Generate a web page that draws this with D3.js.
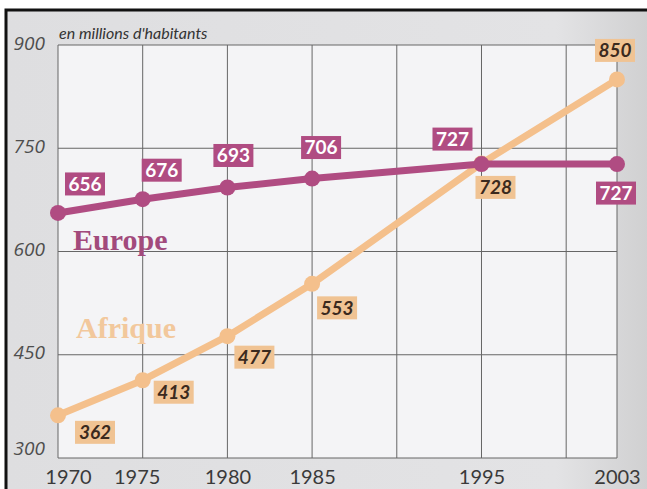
<!DOCTYPE html>
<html>
<head>
<meta charset="utf-8">
<script src="https://cdn.jsdelivr.net/npm/d3@7"></script>
<style>
  body { margin: 0; background: #fff; }
  svg { display: block; }
</style>
</head>
<body>
<svg id="chart" width="647" height="489"></svg>
<script>
// population data, millions
const years = [1970, 1975, 1980, 1985, 1995, 2003];
const europe = [656, 676, 693, 706, 727, 727];
const afrique = [362, 413, 477, 553, 728, 850];
const yTicks = [300, 450, 600, 750, 900];
const xTickLabels = [1970, 1975, 1980, 1985, 1995, 2003];
const gridYears = [1970, 1975, 1980, 1985, 1990, 1995, 2000, 2003];

// label box offsets from each point (layout only)
const europeOffsets = [[27, -29], [19, -29], [6, -32], [9, -31], [-29, -25], [-1, 29]];
const afriqueOffsets = [[37, 17], [31, 12], [27, 21], [25, 24], [14, 24], [-2, -29]];

const W = 647, H = 489;
const plot = { left: 58, right: 617, top: 45, bottom: 458 };
const pink = '#b04c82';
const peach = '#f4c08c';

const svg = d3.select('#chart');

// paper background with a darker right edge
const defs = svg.append('defs');
const grad = defs.append('linearGradient').attr('id', 'paper')
  .attr('x1', 0).attr('x2', 1).attr('y1', 0).attr('y2', 0);
grad.append('stop').attr('offset', '0%').attr('stop-color', '#dedee0');
grad.append('stop').attr('offset', '85%').attr('stop-color', '#e3e3e5');
grad.append('stop').attr('offset', '100%').attr('stop-color', '#cfcfd0');

svg.append('rect')
  .attr('x', 6).attr('y', 10).attr('width', W).attr('height', H)
  .attr('fill', 'url(#paper)');

// frame (left + top)
svg.append('path')
  .attr('d', `M6,${H} L6,10 L${W},10`)
  .attr('fill', 'none').attr('stroke', '#111').attr('stroke-width', 3);

// scales
const x = d3.scaleLinear().domain([1970, 2003]).range([plot.left, plot.right]);
const y = d3.scaleLinear().domain([300, 900]).range([plot.bottom, plot.top]);

// plot area
svg.append('rect')
  .attr('x', plot.left).attr('y', plot.top)
  .attr('width', plot.right - plot.left).attr('height', plot.bottom - plot.top)
  .attr('fill', '#f4f4f6');

// grid
svg.append('g').selectAll('line.h')
  .data(yTicks).enter().append('line')
  .attr('x1', plot.left).attr('x2', plot.right)
  .attr('y1', (d) => y(d)).attr('y2', (d) => y(d))
  .attr('stroke', '#666').attr('stroke-width', 1);

svg.append('g').selectAll('line.v')
  .data(gridYears).enter().append('line')
  .attr('x1', (d) => x(d)).attr('x2', (d) => x(d))
  .attr('y1', plot.top).attr('y2', plot.bottom)
  .attr('stroke', '#666').attr('stroke-width', 1);

// y axis labels (italic)
const yAxis = d3.axisLeft(y).tickValues(yTicks).tickSize(0).tickPadding(13);
svg.append('g')
  .attr('transform', `translate(${plot.left},0)`)
  .call(yAxis)
  .call((g) => g.select('.domain').remove())
  .selectAll('text')
  .style('font-family', '"Open Sans", Lato, sans-serif')
  .style('font-style', 'italic')
  .style('font-size', '19px')
  .attr('fill', '#4e4e4e')
  .attr('dy', (d) => (d === 300 ? '-0.2em' : '0.22em'));

// x axis labels
const xAxis = d3.axisBottom(x).tickValues(xTickLabels).tickFormat(d3.format('d'))
  .tickSize(0).tickPadding(12);
svg.append('g')
  .attr('transform', `translate(0,${plot.bottom})`)
  .call(xAxis)
  .call((g) => g.select('.domain').remove())
  .selectAll('text')
  .style('font-family', 'Lato, "Open Sans", sans-serif')
  .style('font-size', '20px')
  .attr('fill', '#3a3a3a')
  .attr('dx', (d) => (d === 1970 ? 10 : d === 1975 ? -6 : 0));

// unit caption
svg.append('text')
  .attr('x', plot.left + 1).attr('y', plot.top - 6)
  .attr('font-family', 'Lato, "Open Sans", sans-serif')
  .attr('font-style', 'italic')
  .attr('font-size', 16)
  .attr('fill', '#333')
  .text("en millions d'habitants");

// lines
const line = d3.line()
  .x((d) => x(d.year))
  .y((d) => y(d.value))
  .curve(d3.curveLinear);

const series = [
  { name: 'Afrique', values: afrique, color: peach, offsets: afriqueOffsets, text: '#3b2a1e' },
  { name: 'Europe', values: europe, color: pink, offsets: europeOffsets, text: '#fff' },
];

series.forEach((s) => {
  const pts = years.map((yr, i) => ({ year: yr, value: s.values[i] }));
  svg.append('path')
    .attr('d', line(pts))
    .attr('fill', 'none')
    .attr('stroke', s.color)
    .attr('stroke-width', 7)
    .attr('stroke-linejoin', 'round');
  svg.append('g').selectAll('circle')
    .data(pts).enter().append('circle')
    .attr('cx', (d) => x(d.year))
    .attr('cy', (d) => y(d.value))
    .attr('r', 8)
    .attr('fill', s.color);
});

// value label boxes
series.forEach((s) => {
  const g = svg.append('g').selectAll('g')
    .data(years.map((yr, i) => ({ year: yr, value: s.values[i], off: s.offsets[i] })))
    .enter().append('g')
    .attr('transform', (d) => `translate(${x(d.year) + d.off[0]},${y(d.value) + d.off[1]})`);
  g.append('rect')
    .attr('x', -20).attr('y', -11.5)
    .attr('width', 40).attr('height', 23)
    .attr('fill', s.name === 'Europe' ? pink : '#f0c393');
  g.append('text')
    .attr('text-anchor', 'middle')
    .attr('dy', '0.36em')
    .attr('font-family', 'Lato, "Open Sans", sans-serif')
    .attr('font-weight', 'bold')
    .attr('font-style', s.name === 'Europe' ? 'normal' : 'italic')
    .attr('font-size', 19)
    .attr('fill', s.text)
    .text((d) => d.value);
});

// series names
svg.append('text')
  .attr('x', 73).attr('y', 250)
  .attr('font-family', '"Liberation Serif", "DejaVu Serif", serif')
  .attr('font-weight', 'bold')
  .attr('font-size', 30)
  .attr('fill', '#a24a7c')
  .text('Europe');

svg.append('text')
  .attr('x', 76).attr('y', 338)
  .attr('font-family', '"Liberation Serif", "DejaVu Serif", serif')
  .attr('font-weight', 'bold')
  .attr('font-size', 30)
  .attr('fill', '#f2c89c')
  .text('Afrique');
</script>
</body>
</html>
